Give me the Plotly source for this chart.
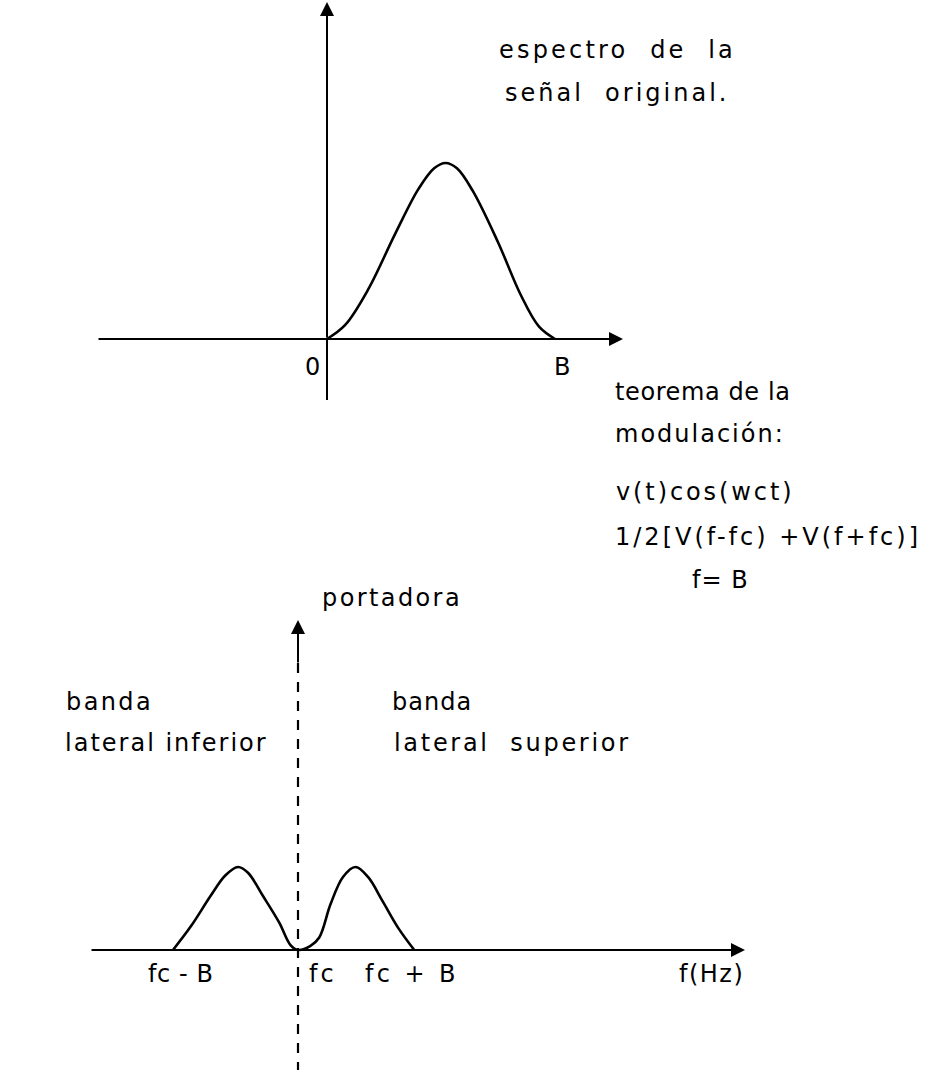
import plotly.graph_objects as go

# ---- data (diagram units) ----
# top panel: frequency in units of B, normalized amplitude of the original spectrum
top_f = [0.0, 0.08, 0.18, 0.30, 0.40, 0.47, 0.52, 0.57, 0.64, 0.75, 0.85, 0.93, 1.0]
top_a = [0.0, 0.08, 0.28, 0.60, 0.85, 0.97, 1.0, 0.97, 0.84, 0.55, 0.25, 0.07, 0.0]
# bottom panel: frequency offset from fc (units of B), normalized amplitude (two side bands)
bot_f = [-1.0, -0.85, -0.70, -0.58, -0.48, -0.40, -0.28, -0.15, -0.06, 0.0, 0.10, 0.17, 0.26, 0.36, 0.46, 0.56, 0.68, 0.80, 0.93]
bot_a = [0.0, 0.30, 0.65, 0.90, 1.0, 0.93, 0.65, 0.33, 0.06, 0.0, 0.05, 0.15, 0.55, 0.88, 1.0, 0.88, 0.58, 0.27, 0.0]
top_ticks = ["0", "B"]
bot_ticks = ["fc - B", "fc", "fc + B", "f(Hz)"]

W, H = 930, 1070
FONT = dict(family="DejaVu Sans", size=24, color="black")
INK = "black"

# pixel geometry of the two diagrams (layout only)
T_X0, T_Y0, T_SX, T_SY = 327, 339, 228, 176
B_X0, B_Y0, B_SX, B_SY = 298, 950, 125, 83

fig = go.Figure()

def line(x, y, xa, ya, width=2.0, dash=None, spline=False):
    ln = dict(color=INK, width=width)
    if dash:
        ln["dash"] = dash
    if spline:
        ln["shape"] = "spline"
        ln["smoothing"] = 1.0
    fig.add_trace(go.Scatter(x=x, y=y, mode="lines", line=ln, xaxis=xa, yaxis=ya,
                             hoverinfo="skip", showlegend=False))

# spectra
line(top_f, top_a, "x", "y", width=2.6, spline=True)
line(bot_f, bot_a, "x2", "y2", width=2.6, spline=True)
# carrier (dashed) line
line([0, 0], [(B_Y0 - 1072) / B_SY, (B_Y0 - 662) / B_SY], "x2", "y2", width=2.2, dash="10px,9px")
# top vertical axis below origin
line([0, 0], [(T_Y0 - 400) / T_SY, 0], "x", "y", width=2.0)

annotations = []
def arrow(x0, y0, x1, y1, xr, yr, w=2):
    annotations.append(dict(x=x1, y=y1, ax=x0, ay=y0, xref=xr, yref=yr, axref=xr, ayref=yr,
                            showarrow=True, arrowhead=2, arrowsize=1.4, arrowwidth=w, arrowcolor=INK, text=""))

# top axes
arrow((97 - T_X0) / T_SX, 0, (623 - T_X0) / T_SX, 0, "x", "y")
arrow(0, 0, 0, (T_Y0 - 2) / T_SY, "x", "y")
# bottom axes
arrow((90 - B_X0) / B_SX, 0, (745 - B_X0) / B_SX, 0, "x2", "y2")
arrow(0, (B_Y0 - 664) / B_SY, 0, (B_Y0 - 620) / B_SY, "x2", "y2")

def txt(s, px, py, ls, anchor="left"):
    annotations.append(dict(text=f'<span style="letter-spacing:{ls}px">{s}</span>', x=px / W, y=1 - py / H,
                            xref="paper", yref="paper", xanchor=anchor, yanchor="middle",
                            showarrow=False, font=FONT))

txt("espectro  de  la", 497, 50, 3.2)
txt("señal  original.", 503, 93, 3.0)
txt(top_ticks[0], 312, 367, 0, "center")
txt(top_ticks[1], 562, 367, 0, "center")
txt("teorema de la", 613, 392, 0.6)
txt("modulación:", 613, 434, 2.0)
txt("v(t)cos(wct)", 614, 492, 2.9)
txt("1/2[V(f-fc) +V(f+fc)]", 613, 537, 3.0)
txt("f= B", 690, 580, 1.0)
txt("portadora", 320, 598, 2.4)
txt("banda", 64, 702, 2.4)
txt("lateral inferior", 63, 743, 2.0)
txt("banda", 390, 702, 1.0)
txt("lateral  superior", 392, 743, 2.7)
txt(bot_ticks[0], 146, 974, 0.6)
txt(bot_ticks[1], 307, 974, 3.0)
txt(bot_ticks[2], 363, 974, 3.4)
txt(bot_ticks[3], 677, 974, 1.5)

ax_common = dict(visible=False, showgrid=False, zeroline=False, fixedrange=True)
fig.update_layout(
    width=W, height=H, margin=dict(l=0, r=0, t=0, b=0),
    paper_bgcolor="white", plot_bgcolor="white",
    xaxis=dict(ax_common, domain=[0, 1], range=[-T_X0 / T_SX, (W - T_X0) / T_SX]),
    yaxis=dict(ax_common, domain=[0, 1], range=[(T_Y0 - H) / T_SY, T_Y0 / T_SY]),
    xaxis2=dict(ax_common, domain=[0, 1], range=[-B_X0 / B_SX, (W - B_X0) / B_SX], overlaying="x"),
    yaxis2=dict(ax_common, domain=[0, 1], range=[(B_Y0 - H) / B_SY, B_Y0 / B_SY], overlaying="y"),
    annotations=annotations,
    showlegend=False,
)

fig.write_html("out.html", config={"displayModeBar": False},
               post_script="document.body.style.margin='0';document.body.style.overflow='hidden';")
